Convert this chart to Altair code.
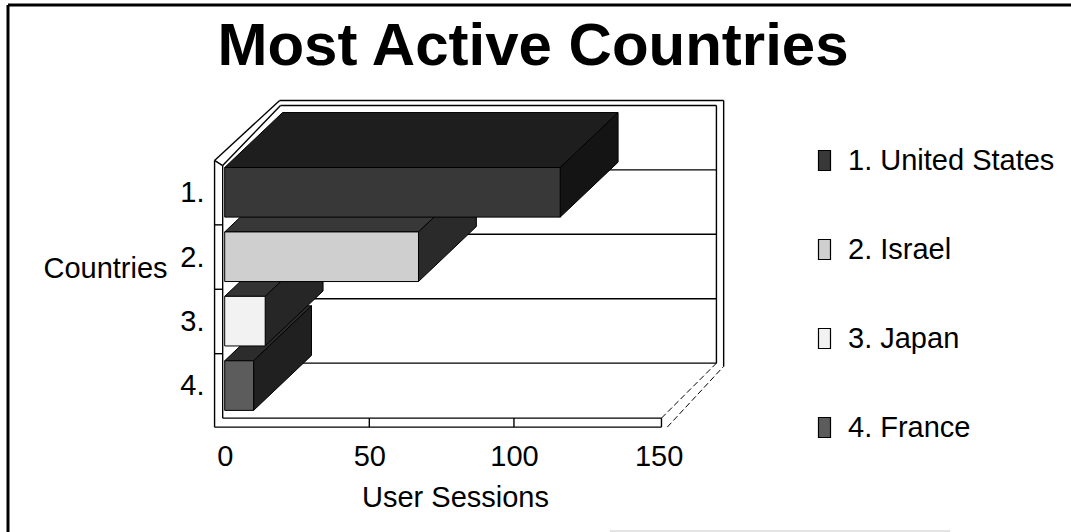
import altair as alt
import pandas as pd

# ---------------- data ----------------
countries = ["1. United States", "2. Israel", "3. Japan", "4. France"]
sessions = [116, 67, 14, 10]
front_colors = ["#383838", "#cfcfcf", "#f2f2f2", "#5c5c5c"]
top_colors = ["#1e1e1e", "#383838", "#333333", "#2c2c2c"]
side_colors = ["#141414", "#2a2a2a", "#262626", "#202020"]
x_tick_values = [0, 50, 100, 150]
y_tick_values = [0.5, 1.5, 2.5, 3.5]
title_text = ["Most Active Countries"]
x_title = "User Sessions"
y_title = "Countries"

# ---------------- geometry / style constants ----------------
FONT = "Liberation Sans"
DX, DY = 20.0, 0.853          # 3-D depth offset (value units, band units)
B0, B1 = 0.11, 0.88           # bar extent inside a category band
WALL_OUT, WALL_IN = -3.5, -0.7
FLOOR_IN, FLOOR_OUT = 4.0, 4.14
BACK_OUT_X, BACK_OUT_Y = 172.5, -0.93
XDOM = [-7.5, 174.0]
YDOM = [-1.0, 4.2]
W, H = 525, 335
PAD = {"left": 203, "top": 96, "right": 343, "bottom": 101}

xs = alt.Scale(domain=XDOM, nice=False, zero=False)
ys = alt.Scale(domain=YDOM, nice=False, zero=False, reverse=True)

x_axis = alt.Axis(values=x_tick_values, ticks=False, tickSize=0, domain=False, grid=False,
                  labelFont=FONT, labelFontSize=29, labelColor="black", labelPadding=11,
                  title=x_title, titleFont=FONT, titleFontSize=29, titleFontWeight="normal",
                  titleColor="black", titleX=252, titleY=66, titleBaseline="middle",
                  titleAlign="center")
y_axis = alt.Axis(values=y_tick_values, labelExpr="floor(datum.value + 0.5) + '.'",
                  ticks=False, tickSize=0, domain=False, grid=False,
                  labelFont=FONT, labelFontSize=29, labelColor="black", labelPadding=-1,
                  title=y_title, titleFont=FONT, titleFontSize=29, titleFontWeight="normal",
                  titleColor="black", titleAngle=0, titleX=-98, titleY=172,
                  titleAlign="center", titleBaseline="middle")


def X():
    return alt.X("x:Q", scale=xs, axis=x_axis)


def Y():
    return alt.Y("y:Q", scale=ys, axis=y_axis)


COLOR = alt.Color(
    "country:N",
    scale=alt.Scale(domain=countries, range=front_colors),
    legend=alt.Legend(title=None, orient="none", legendX=607, legendY=50,
                      symbolType="M-0.6,-1H0.6V1H-0.6Z", symbolSize=400,
                      symbolStrokeColor="black", symbolStrokeWidth=1.2,
                      labelFont=FONT, labelFontSize=29, labelColor="black",
                      labelOffset=9, rowPadding=59, padding=0, labelLimit=400),
)

layers = []

# ---- back wall, gridlines, left-wall top ----
back_rows = [
    (WALL_OUT, 0.0, 19.0, BACK_OUT_Y),
    (WALL_IN, 0.08, WALL_IN + DX, -DY),
    (19.0, BACK_OUT_Y, BACK_OUT_X, BACK_OUT_Y),
    (WALL_IN + DX, -DY, 150 + DX, -DY),
    (150 + DX, -DY, 150 + DX, 4 - DY),
    (BACK_OUT_X, BACK_OUT_Y, BACK_OUT_X, 4 - DY + 0.05),
]
for k in range(1, 5):
    back_rows.append((WALL_IN + DX, k - DY, 150 + DX, k - DY))
back_df = pd.DataFrame(back_rows, columns=["x", "y", "x2", "y2"])
layers.append(alt.Chart(back_df).mark_rule(color="black", strokeWidth=1.4).encode(
    x=X(), y=Y(), x2=alt.X2("x2"), y2=alt.Y2("y2")))

# ---- bars (bottom category first so upper ones overlap) ----
for i in reversed(range(len(countries))):
    v = sessions[i]
    top = pd.DataFrame({"y": [i + B0, i + B0 - DY], "x": [0.0, DX], "x2": [v, v + DX]})
    layers.append(alt.Chart(top).mark_area(orient="horizontal", fill=top_colors[i],
                                           stroke="black", strokeWidth=1, opacity=1).encode(
        y=Y(), x=X(), x2=alt.X2("x2")))
    side = pd.DataFrame({"x": [v, v + DX], "y": [i + B0, i + B0 - DY],
                         "y2": [i + B1, i + B1 - DY]})
    layers.append(alt.Chart(side).mark_area(orient="vertical", fill=side_colors[i],
                                            stroke="black", strokeWidth=1, opacity=1).encode(
        x=X(), y=Y(), y2=alt.Y2("y2")))
    front = pd.DataFrame({"x": [0.0], "x2": [v], "y": [i + B0], "y2": [i + B1],
                          "country": [countries[i]]})
    layers.append(alt.Chart(front).mark_rect(stroke="black", strokeWidth=1, opacity=1).encode(
        x=X(), x2=alt.X2("x2"), y=Y(), y2=alt.Y2("y2"), color=COLOR))

# ---- left wall front, floor front ----
front_rows = [
    (WALL_OUT, 0.0, WALL_OUT, FLOOR_OUT),
    (WALL_IN, 0.08, WALL_IN, FLOOR_IN),
    (WALL_OUT, 0.0, WALL_IN, 0.08),
    (WALL_IN, FLOOR_IN, 151, FLOOR_IN),
    (WALL_OUT, FLOOR_OUT, 151, FLOOR_OUT),
    (151, FLOOR_IN, 151, FLOOR_OUT),
]
for k in range(1, 4):
    front_rows.append((WALL_OUT, k, WALL_IN, k))
for t in x_tick_values[1:3]:
    front_rows.append((t, FLOOR_IN, t, FLOOR_OUT))
front_df = pd.DataFrame(front_rows, columns=["x", "y", "x2", "y2"])
layers.append(alt.Chart(front_df).mark_rule(color="black", strokeWidth=1.4).encode(
    x=X(), y=Y(), x2=alt.X2("x2"), y2=alt.Y2("y2")))

dash_rows = [
    (151, FLOOR_IN, 150 + DX, 4 - DY),
    (153, FLOOR_OUT, BACK_OUT_X, 4 - DY + 0.05),
]
dash_df = pd.DataFrame(dash_rows, columns=["x", "y", "x2", "y2"])
layers.append(alt.Chart(dash_df).mark_rule(color="black", strokeWidth=1, strokeDash=[6, 3]).encode(
    x=X(), y=Y(), x2=alt.X2("x2"), y2=alt.Y2("y2")))

# ---- outer frame of the slide ----
one = pd.DataFrame({"k": [0]})
layers.append(alt.Chart(one).mark_rule(color="black", strokeWidth=3).encode(
    x=alt.value(-195), y=alt.value(-91), y2=alt.value(436)))
layers.append(alt.Chart(one).mark_rule(color="black", strokeWidth=3).encode(
    x=alt.value(-195), x2=alt.value(868), y=alt.value(-91)))
layers.append(alt.Chart(one).mark_rule(color="#c8c8c8", strokeWidth=1).encode(
    x=alt.value(407), x2=alt.value(747), y=alt.value(435)))

# ---- title ----
layers.append(alt.Chart(pd.DataFrame({"t": title_text})).mark_text(
    font=FONT, fontSize=60, fontWeight="bold", align="center", baseline="alphabetic",
    color="black").encode(text="t:N", x=alt.value(330), y=alt.value(-31)))

chart = alt.layer(*layers).properties(
    width=W, height=H, padding=PAD, autosize=alt.AutoSizeParams(type="none"),
    background="white",
).configure_view(strokeWidth=0)

chart.save("out.html", embed_options={"renderer": "svg", "actions": False})
